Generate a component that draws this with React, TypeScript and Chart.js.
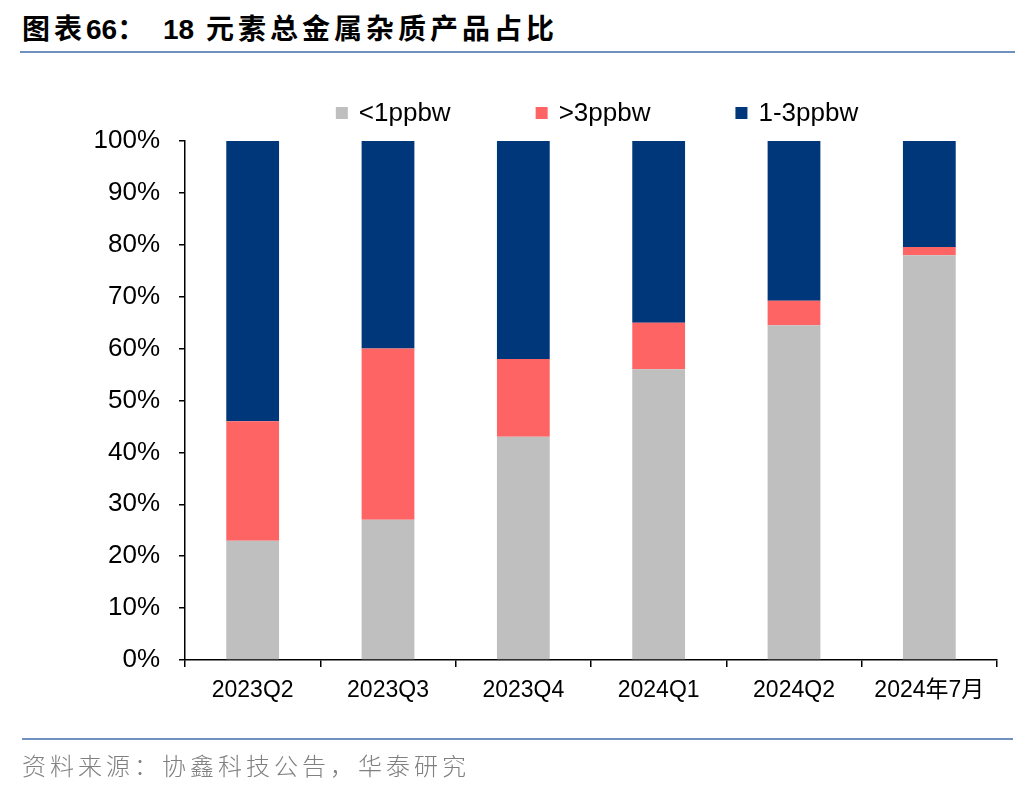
import React, { useEffect, useRef } from "react";
import { Chart, registerables } from "chart.js";

Chart.register(...registerables);

const categories = ["2023Q2", "2023Q3", "2023Q4", "2024Q1", "2024Q2", "2024年7月"];
const seriesNames = ["<1ppbw", ">3ppbw", "1-3ppbw"];
const below1 = [23, 27, 43, 56, 64.5, 78];
const above3 = [23, 33, 15, 9, 4.7, 1.6];
const between1and3 = [54, 40, 42, 35, 30.8, 20.4];
const yTicks = [0, 10, 20, 30, 40, 50, 60, 70, 80, 90, 100];
const colors = ["#BFBFBF", "#FF6464", "#00377A"];

const FONT = '"Liberation Sans", Arial, "Noto Sans CJK SC", sans-serif';

const legendPlugin = {
  id: "customLegend",
  afterDraw(chart: any) {
    const { ctx, chartArea } = chart;
    ctx.save();
    ctx.font = `26px ${FONT}`;
    ctx.textBaseline = "middle";
    ctx.textAlign = "left";
    const box = 12;
    const gapText = 11;
    const gapItem = 85;
    const items = chart.data.datasets.map((d: any) => ({
      label: d.label,
      color: d.backgroundColor,
      w: ctx.measureText(d.label).width,
    }));
    let total = 0;
    items.forEach((it: any, i: number) => {
      total += box + gapText + it.w + (i < items.length - 1 ? gapItem : 0);
    });
    let x = (chartArea.left + chartArea.right) / 2 + 6 - total / 2;
    const y = chartArea.top - 28;
    items.forEach((it: any) => {
      ctx.fillStyle = it.color;
      ctx.fillRect(x, y - box / 2, box, box);
      x += box + gapText;
      ctx.fillStyle = "#000";
      ctx.fillText(it.label, x, y + 1);
      x += it.w + gapItem;
    });
    ctx.restore();
  },
};

export default function App() {
  const ref = useRef<HTMLCanvasElement | null>(null);

  useEffect(() => {
    if (!ref.current) return;
    const chart = new Chart(ref.current, {
      type: "bar",
      data: {
        labels: categories,
        datasets: [
          { label: seriesNames[0], data: below1, backgroundColor: colors[0] },
          { label: seriesNames[1], data: above3, backgroundColor: colors[1] },
          { label: seriesNames[2], data: between1and3, backgroundColor: colors[2] },
        ],
      },
      options: {
        animation: false,
        responsive: false,
        maintainAspectRatio: false,
        devicePixelRatio: 1,
        layout: { padding: { top: 141, left: 0, right: 39, bottom: 0 } },
        datasets: {
          bar: { categoryPercentage: 1, barPercentage: 0.39, borderWidth: 0 },
        },
        plugins: {
          legend: { display: false },
          tooltip: { enabled: false },
        },
        scales: {
          x: {
            stacked: true,
            offset: true,
            grid: {
              offset: true,
              drawOnChartArea: false,
              drawTicks: true,
              tickLength: 7,
              color: "#000",
              lineWidth: 1.5,
            },
            border: { display: true, color: "#000", width: 1.5 },
            ticks: {
              color: "#000",
              font: { family: FONT, size: 23 },
              padding: 10,
              maxRotation: 0,
              autoSkip: false,
            },
            afterFit(scale: any) {
              scale.height = 132;
            },
          },
          y: {
            stacked: true,
            min: 0,
            max: 100,
            afterBuildTicks(scale: any) {
              scale.ticks = yTicks.map((v) => ({ value: v }));
            },
            grid: {
              drawOnChartArea: false,
              drawTicks: true,
              tickLength: 6,
              color: "#000",
              lineWidth: 1.5,
            },
            border: { display: true, color: "#000", width: 1.5 },
            ticks: {
              color: "#000",
              font: { family: FONT, size: 26 },
              padding: 19,
              callback: (v: any) => `${v}%`,
            },
            afterFit(scale: any) {
              scale.width = 185;
            },
          },
        },
      },
      plugins: [legendPlugin],
    });
    return () => chart.destroy();
  }, []);

  const cjk = { letterSpacing: 4 };
  const num = { letterSpacing: 0 };

  return (
    <div
      style={{
        position: "absolute",
        left: 0,
        top: 0,
        width: 1036,
        height: 792,
        background: "#fff",
        overflow: "hidden",
      }}
    >
      <div
        style={{
          position: "absolute",
          left: 22,
          top: 12,
          fontFamily: '"Liberation Sans", Arial, "Noto Sans CJK SC", sans-serif',
          fontWeight: "bold",
          fontSize: 28,
          lineHeight: "36px",
          color: "#000",
          whiteSpace: "nowrap",
        }}
      >
        <span style={cjk}>图表</span>
        <span style={num}>66</span>
        <span style={{ letterSpacing: 5 }}>： </span>
        <span style={num}>18</span>
        <span style={cjk}> 元素总金属杂质产品占比</span>
      </div>
      <div
        style={{
          position: "absolute",
          left: 20,
          top: 51,
          width: 995,
          height: 2,
          background: "#7090C0",
        }}
      />
      <canvas
        ref={ref}
        width={1036}
        height={792}
        style={{ position: "absolute", left: 0, top: 0, width: 1036, height: 792 }}
      />
      <div
        style={{
          position: "absolute",
          left: 22,
          top: 738,
          width: 991,
          height: 2,
          background: "#7090C0",
        }}
      />
      <div
        style={{
          position: "absolute",
          left: 22,
          top: 750,
          fontFamily: '"Noto Sans CJK SC", sans-serif',
          fontWeight: 300,
          fontSize: 24,
          letterSpacing: 4,
          lineHeight: "30px",
          color: "#808080",
          whiteSpace: "nowrap",
        }}
      >
        资料来源：协鑫科技公告，华泰研究
      </div>
    </div>
  );
}
